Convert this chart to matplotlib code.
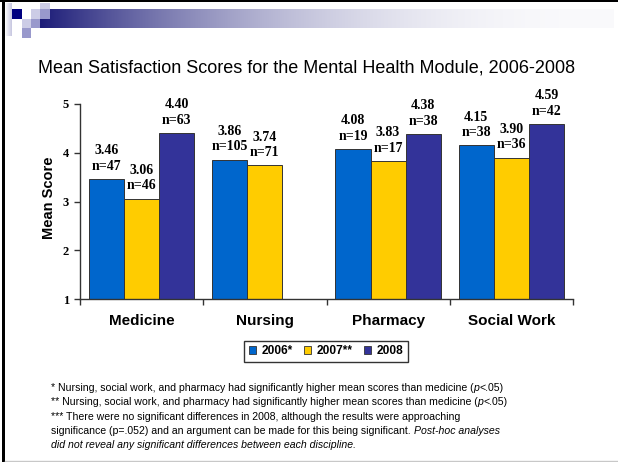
import numpy as np
import matplotlib.pyplot as plt
from matplotlib.patches import Rectangle, Patch
from matplotlib.font_manager import FontProperties

plt.rcParams['font.family'] = 'Liberation Sans'

disciplines = ['Medicine', 'Nursing', 'Pharmacy', 'Social Work']
years = ['2006*', '2007**', '2008']
scores_2006 = [3.46, 3.86, 4.08, 4.15]
scores_2007 = [3.06, 3.74, 3.83, 3.90]
scores_2008 = [4.40, np.nan, 4.38, 4.59]
n_2006 = [47, 105, 19, 38]
n_2007 = [46, 71, 17, 36]
n_2008 = [63, None, 38, 42]
bar_colors = ['#0066CC', '#FFCC00', '#333399']

title = 'Mean Satisfaction Scores for the Mental Health Module, 2006-2008'
# (text, italic) pieces per footnote line
footnotes = [
    [('* Nursing, social work, and pharmacy had significantly higher mean scores than medicine (', False),
     ('p', True), ('<.05)', False)],
    [('** Nursing, social work, and pharmacy had significantly higher mean scores than medicine (', False),
     ('p', True), ('<.05)', False)],
    [('*** There were no significant differences in 2008, although the results were approaching', False)],
    [('significance (p=.052) and an argument can be made for this being significant. ', False),
     ('Post-hoc analyses', True)],
    [('did not reveal any significant differences between each discipline.', True)],
]

W, H = 618, 462
fig = plt.figure(figsize=(W / 100, H / 100), dpi=100)

# slide decoration, drawn in pixel coordinates
bg = fig.add_axes([0, 0, 1, 1], zorder=0)
xs = np.linspace(0, 1, 600)
t = 1 - (1 - xs) ** 2.3
c0 = np.array([28, 28, 120]) / 255
c1 = np.array([250, 250, 252]) / 255
grad = c0 + t[:, None] * (c1 - c0)
bg.imshow(grad[None, :, :], extent=(40, 614, 28, 9), aspect='auto', interpolation='bilinear')
strip = np.array([1, 1, 1]) + np.linspace(0, 1, 50)[:, None] * (np.array([0.78, 0.78, 0.88]) - 1)
bg.imshow(strip[None, :, :], extent=(5, 12, 36, 3), aspect='auto', interpolation='bilinear')
light, mid = '#CCCCE6', '#9999CC'
for (sx, sy, sw, sh, sc) in [(12, 9, 10, 10, '#000080'), (40, 3, 10, 6, light), (31, 9, 9, 10, light),
                             (40, 9, 10, 10, mid), (22, 19, 9, 9, light), (31, 19, 9, 9, mid),
                             (22, 28, 9, 10, mid)]:
    bg.add_patch(Rectangle((sx, sy), sw, sh, color=sc, lw=0))
bg.add_patch(Rectangle((0, 0), W, 2, color='black', lw=0))
bg.add_patch(Rectangle((2, 0), 3, H, color='black', lw=0))
bg.plot([5, W], [461, 461], color='#C8C8C8', lw=1)
bg.set_xlim(0, W)
bg.set_ylim(H, 0)
bg.axis('off')

bg.text(38, 68, title, fontsize=13, ha='left', va='center')
bg.text(49, 198, 'Mean Score', fontsize=10.5, fontweight='bold', rotation=90, ha='center', va='center')

# bars
ax = fig.add_axes([80 / W, 1 - 299 / H, 493 / W, 195 / H], zorder=1)
ax.patch.set_alpha(0)
x = np.arange(len(disciplines)) + 0.5
width = 0.285
for i, (vals, ns) in enumerate([(scores_2006, n_2006), (scores_2007, n_2007), (scores_2008, n_2008)]):
    pos = x + (i - 1) * width
    ax.bar(pos, vals, width, color=bar_colors[i], edgecolor='#333333', linewidth=0.7)
    for p, v, n in zip(pos, vals, ns):
        if np.isnan(v):
            continue
        ax.annotate(f'{v:.2f}\nn={n}', (p, v), xytext=(0, 4.5), textcoords='offset points',
                    ha='center', va='bottom', fontsize=10, fontweight='bold',
                    family='Liberation Serif', linespacing=1.25, annotation_clip=False)

ax.set_xlim(0, 4)
ax.set_ylim(1, 5)
ax.spines['top'].set_visible(False)
ax.spines['right'].set_visible(False)
for s in ['left', 'bottom']:
    ax.spines[s].set_color('#333333')
    ax.spines[s].set_linewidth(1)
ax.set_xticks(range(5))
ax.set_xticklabels([])
ax.set_xticks(x, minor=True)
ax.set_xticklabels(disciplines, minor=True, fontsize=11, fontweight='bold')
ax.tick_params(axis='x', which='major', length=4, width=1, color='#333333')
ax.tick_params(axis='x', which='minor', length=0, pad=11)
ax.set_yticks([1, 2, 3, 4, 5])
ax.set_yticklabels(['1', '2', '3', '4', '5'], family='Liberation Serif', fontweight='bold', fontsize=9)
ax.tick_params(axis='y', length=4, width=1, color='#333333', pad=4)

handles = [Patch(facecolor=c, edgecolor='#333333', linewidth=0.6, label=y) for c, y in zip(bar_colors, years)]
leg = fig.legend(handles=handles, loc='center', bbox_to_anchor=(326 / W, 1 - 351.5 / H), ncol=3,
                 frameon=True, fancybox=False, edgecolor='black', handlelength=0.65, handleheight=0.65,
                 handletextpad=0.45, columnspacing=0.9, borderpad=0.4,
                 prop={'family': 'Liberation Sans', 'weight': 'bold', 'size': 8.6})
leg.get_frame().set_linewidth(1.0)

# footnotes with mixed upright / italic runs
renderer = fig.canvas.get_renderer()
note_size = 7.6


def text_width(txt, italic):
    prop = FontProperties(family='Liberation Sans', size=note_size, style='italic' if italic else 'normal')
    w1 = renderer.get_text_width_height_descent(txt + 'x', prop, False)[0]
    w0 = renderer.get_text_width_height_descent('x', prop, False)[0]
    return w1 - w0


line_y = [388, 402, 417, 431, 445]
for ly, pieces in zip(line_y, footnotes):
    lx = 51
    for txt, italic in pieces:
        bg.text(lx, ly, txt, fontsize=note_size, style='italic' if italic else 'normal', ha='left', va='center')
        lx += text_width(txt, italic)

fig.savefig('out.png', dpi=100)
